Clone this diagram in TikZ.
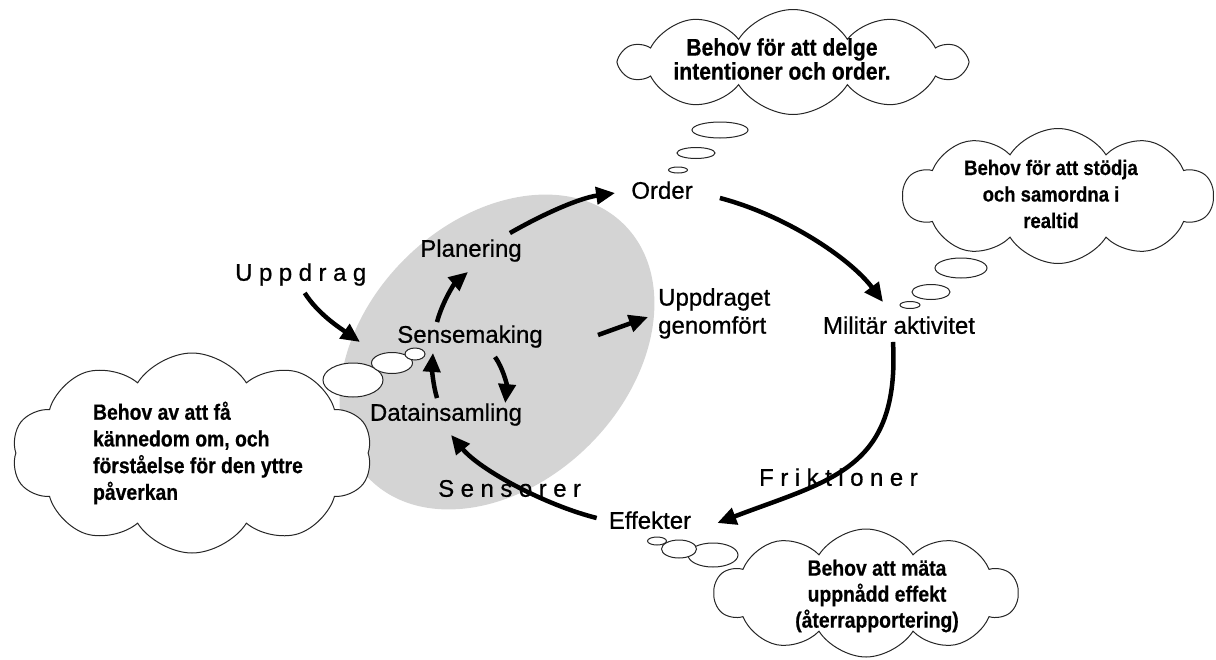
\documentclass[tikz,border=0pt]{standalone}
\usepackage{fontspec}
\setmainfont{Liberation Sans}
\newfontfamily\labelfont[FakeBold=0.7]{Liberation Sans}
\newfontfamily\cloudfont[FakeStretch=0.88,FakeBold=0.5]{Liberation Sans Bold}
\usetikzlibrary{shapes.geometric,shapes.symbols,arrows.meta}

% letter-spaced words
\newcommand\spreadword[1]{\spreadloop#1\relax}
\def\spreadloop#1{\ifx#1\relax\else#1\hspace{6.5pt}\expandafter\spreadloop\fi}

\definecolor{zone}{RGB}{212,212,212}

\begin{document}
\begin{tikzpicture}[x=1pt,y=-1pt,
  lbl/.style={font=\labelfont\fontsize{24}{28}\selectfont, inner sep=0pt,
              text height=17.5pt, text depth=0pt},
  arr/.style={line width=4.5pt, -{Triangle[length=19pt,width=17pt]}},
  puff/.style={cloud, cloud puffs=10, cloud puff arc=115, cloud ignores aspect,
               draw=black!85, line width=1pt, fill=white, inner sep=0pt},
  bubble/.style={draw=black!85, line width=1pt, fill=white},
  needtext/.style={inner sep=0pt, align=center}]

\useasboundingbox (0,0) rectangle (1216,659);

% grey working area
\node[ellipse, fill=zone, minimum width=360pt, minimum height=262pt,
      rotate=45, inner sep=0pt] (zone) at (497,352) {};

% thought clouds
\node[puff, minimum width=343pt, minimum height=105pt] (cloudorder)  at (793,62)  {};
\node[puff, minimum width=310pt, minimum height=135pt] (cloudsync)   at (1058,196) {};
\node[puff, minimum width=360pt, minimum height=200pt] (cloudsense)  at (192,453) {};
\node[puff, minimum width=303pt, minimum height=128pt] (cloudeffect) at (866,593) {};

% small bubbles leading to the clouds
\draw[bubble] (720,130) ellipse [x radius=28, y radius=8];
\draw[bubble] (696,153) ellipse [x radius=19, y radius=5.5];
\draw[bubble] (678,170) ellipse [x radius=9.5, y radius=3];

\draw[bubble] (961,268) ellipse [x radius=26, y radius=10];
\draw[bubble] (931,292) ellipse [x radius=19, y radius=7.5];
\draw[bubble] (910,305) ellipse [x radius=10, y radius=3.5];

\draw[bubble] (353,380) ellipse [x radius=30, y radius=17];
\draw[bubble] (392,363) ellipse [x radius=20.5, y radius=10.5];
\draw[bubble] (415,354) ellipse [x radius=10, y radius=6];

\draw[bubble] (713,555) ellipse [x radius=25, y radius=12];
\draw[bubble] (679,549) ellipse [x radius=17.5, y radius=9];
\draw[bubble] (657,541) ellipse [x radius=9.5, y radius=4];

% cloud texts
\node[needtext, font=\cloudfont\fontsize{24}{24}\selectfont] (needorder) at (782,59)
  {Behov för att delge\\intentioner och order.};
\node[needtext, font=\cloudfont\fontsize{21}{26.5}\selectfont] (needsync) at (1051,194)
  {Behov för att stödja\\och samordna i\\realtid};
\node[needtext, align=left, font=\cloudfont\fontsize{22}{26.7}\selectfont] (needsense) at (198,453)
  {Behov av att få\\kännedom om, och\\förståelse för den yttre\\påverkan};
\node[needtext, font=\cloudfont\fontsize{22}{26}\selectfont] (needeffect) at (877,596)
  {Behov att mäta\\uppnådd effekt\\(återrapportering)};

% process labels
\node[lbl] (plan) at (471,248) {Planering};
\node[lbl] (sense) at (470,334) {Sensemaking};
\node[lbl] (data) at (446,412) {Datainsamling};
\node[lbl] (order) at (662,190) {Order};
\node[lbl] (militar) at (899,325) {Militär aktivitet};
\node[lbl] (effekter) at (650,520) {Effekter};
\node[inner sep=0pt, anchor=north west, align=left, font=\labelfont\fontsize{24}{28}\selectfont]
  (done) at (658,288) {Uppdraget\\genomfört};
\node[lbl, anchor=west] (uppdrag) at (235,272) {\spreadword{Uppdrag}};
\node[lbl, anchor=west] (friktioner) at (759,477) {\spreadword{Friktioner}};
\node[lbl, anchor=west] (sensorer) at (438,488) {\spreadword{Sensorer}};

\coordinate (zonein) at (360,342);
\coordinate (zoneout) at (598,335);

% flow arrows
\draw[arr] ([shift={(4,12)}]uppdrag.south) .. controls (318,314) and (340,328) .. (zonein);
\draw[arr] ([shift={(-12,-6)}]plan.north east) .. controls (545,213) and (580,198) .. ([shift={(-16,3)}]order.west);
\draw[arr] ([shift={(27,8)}]order.east) .. controls (785,215) and (850,258) .. ([shift={(-16,-14)}]militar.north);
\draw[arr] ([shift={(-6,8)}]militar.south) .. controls (900,470) and (830,480) .. ([shift={(26,3)}]effekter.east);
\draw[arr] ([shift={(-12,-2)}]effekter.west) .. controls (545,505) and (480,470) .. ([shift={(5,14)}]data.south);
\draw[arr] ([shift={(-33,-3)}]sense.north) .. controls (443,300) and (455,283) .. ([shift={(-3,15)}]plan.south);
\draw[arr] ([shift={(25,14)}]sense.south) .. controls (503,368) and (507,385) .. ([shift={(-17,0)}]data.north east);
\draw[arr] ([shift={(-9,-5)}]data.north) .. controls (433,385) and (432,368) .. ([shift={(-37,10)}]sense.south);
\draw[arr] (zoneout) -- ([shift={(-10,29)}]done.north west);

\end{tikzpicture}
\end{document}
